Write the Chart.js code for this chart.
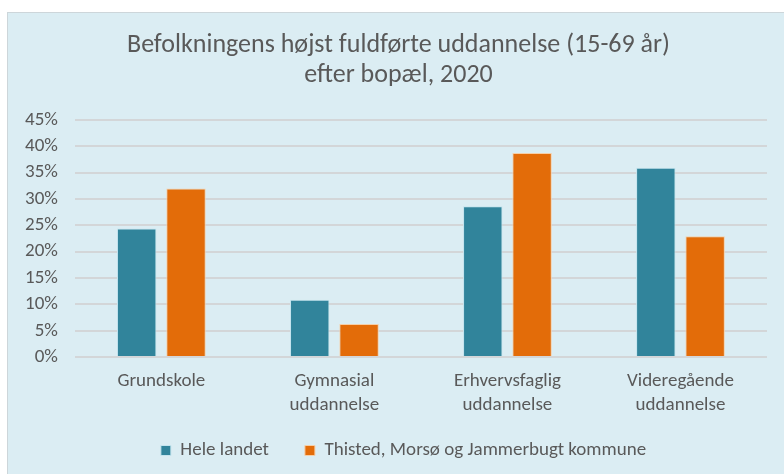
<!DOCTYPE html>
<html>
<head>
<meta charset="utf-8">
<script src="https://cdn.jsdelivr.net/npm/chart.js@4/dist/chart.umd.min.js"></script>
<style>
  html, body { margin: 0; padding: 0; background: #ffffff; }
  #panel {
    position: absolute; left: 7px; top: 12px; width: 777px; height: 462px;
    background: #dbedf3; border-left: 1px solid #cdd6da; border-top: 1px solid #cdd6da;
  }
  #wrap { position: absolute; left: 0; top: 0; width: 784px; height: 474px; }
</style>
</head>
<body>
<div id="panel"></div>
<div id="wrap"><canvas id="barChart"></canvas></div>
<script>
const categories = [['Grundskole'], ['Gymnasial', 'uddannelse'], ['Erhvervsfaglig', 'uddannelse'], ['Videregående', 'uddannelse']];
const seriesNames = ['Hele landet', 'Thisted, Morsø og Jammerbugt kommune'];
const heleLandet = [24.4, 10.9, 28.6, 35.9];
const thisted = [32.0, 6.3, 38.7, 22.9];
const yTicks = [0, 5, 10, 15, 20, 25, 30, 35, 40, 45];

const fontFam = "Carlito, 'Liberation Sans', sans-serif";
const grey = '#595959';

// small nudges of title and legend so they sit like in the original
const boxShift = {
  id: 'boxShift',
  afterLayout(chart) {
    const lg = chart.legend, tt = chart.titleBlock;
    lg.left += 16; lg.right += 16;
    lg.top -= 24; lg.bottom -= 24;
    tt.left += 11; tt.right += 11;
  }
};

new Chart(document.getElementById('barChart'), {
  type: 'bar',
  data: {
    labels: categories,
    datasets: [
      {
        label: seriesNames[0],
        data: heleLandet,
        backgroundColor: '#31849b',
        borderColor: '#c4e4ee',
        borderWidth: 1,
        barPercentage: 0.8,
        categoryPercentage: 0.57
      },
      {
        label: seriesNames[1],
        data: thisted,
        backgroundColor: '#e36c09',
        borderColor: '#f5cfa8',
        borderWidth: 1,
        barPercentage: 0.8,
        categoryPercentage: 0.57
      }
    ]
  },
  plugins: [boxShift],
  options: {
    responsive: true,
    maintainAspectRatio: false,
    animation: false,
    layout: { padding: { left: 8, right: 17, top: 30, bottom: -20 } },
    plugins: {
      title: {
        display: true,
        text: ['Befolkningens højst fuldførte uddannelse (15-69 år)', 'efter bopæl, 2020'],
        color: grey,
        font: { family: fontFam, size: 26, weight: 'normal', lineHeight: 1.17 },
        padding: { top: 0, bottom: 29 }
      },
      legend: {
        position: 'bottom',
        labels: {
          color: grey,
          font: { family: fontFam, size: 19 },
          boxWidth: 10,
          boxHeight: 10,
          padding: 36
        }
      },
      tooltip: { enabled: false }
    },
    scales: {
      x: {
        grid: { display: false, drawTicks: false },
        border: { display: false },
        ticks: { color: grey, font: { family: fontFam, size: 19, lineHeight: 1.26 }, padding: 12, maxRotation: 0 }
      },
      y: {
        min: 0,
        max: 45,
        afterBuildTicks: axis => { axis.ticks = yTicks.map(v => ({ value: v })); },
        grid: { color: '#d3d6d8', lineWidth: 2, drawTicks: false },
        border: { display: false },
        ticks: {
          color: grey,
          font: { family: fontFam, size: 19 },
          padding: 17,
          autoSkip: false,
          callback: v => v + '%'
        }
      }
    }
  }
});
</script>
</body>
</html>
